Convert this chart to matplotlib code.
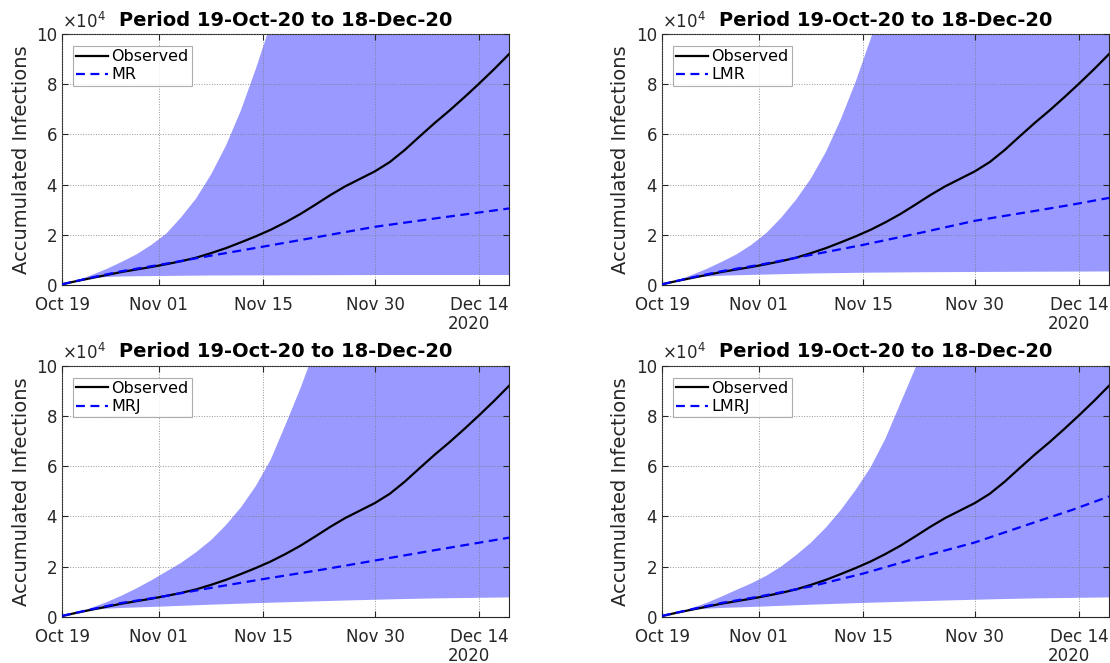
import numpy as np
import matplotlib
matplotlib.use("Agg")
import matplotlib.pyplot as plt

# all values in units of 1e4 infections, days counted from 19-Oct-2020
start = np.datetime64("2020-10-19")

obs_days = list(range(0, 61, 2))
observed = [0.03, 0.16, 0.28, 0.4, 0.52, 0.62, 0.72, 0.83, 0.95, 1.09, 1.27,
            1.47, 1.7, 1.94, 2.2, 2.5, 2.83, 3.2, 3.58, 3.93, 4.23, 4.53, 4.9,
            5.38, 5.92, 6.45, 6.95, 7.48, 8.03, 8.6, 9.2]

fit_days = [0, 4, 8, 13, 20, 27, 35, 42, 50, 55, 60]
fit_mr = [0.03, 0.3, 0.55, 0.8, 1.17, 1.53, 1.95, 2.32, 2.65, 2.85, 3.05]
fit_lmr = [0.03, 0.3, 0.55, 0.8, 1.2, 1.6, 2.1, 2.56, 2.95, 3.2, 3.47]
fit_mrj = [0.03, 0.3, 0.55, 0.78, 1.15, 1.5, 1.88, 2.24, 2.65, 2.9, 3.15]
fit_lmrj = [0.03, 0.3, 0.55, 0.8, 1.21, 1.72, 2.4, 2.96, 3.76, 4.25, 4.79]

lo_days = [0, 2, 4, 6, 8, 10, 13, 20, 27, 35, 42, 50, 60]
lo_mr = [0.03, 0.16, 0.27, 0.32, 0.34, 0.35, 0.36, 0.38, 0.385, 0.39, 0.4, 0.4, 0.4]
lo_lmr = [0.03, 0.16, 0.28, 0.34, 0.37, 0.39, 0.41, 0.46, 0.49, 0.51, 0.52, 0.53, 0.54]
lo_mrj = [0.03, 0.16, 0.27, 0.32, 0.35, 0.37, 0.4, 0.48, 0.55, 0.62, 0.68, 0.73, 0.77]
lo_lmrj = [0.03, 0.16, 0.27, 0.32, 0.35, 0.37, 0.4, 0.48, 0.55, 0.62, 0.68, 0.73, 0.77]

up_days = list(range(0, 39, 2)) + [45, 50, 60]
up_mr = [0.03, 0.18, 0.4, 0.64, 0.92, 1.22, 1.6, 2.05, 2.7, 3.45, 4.4, 5.55, 6.95,
         8.6, 10.4, 12.5, 14.8, 17.3, 20, 23, 32, 40, 60]
up_lmr = [0.03, 0.18, 0.4, 0.64, 0.92, 1.22, 1.6, 2.07, 2.68, 3.4, 4.25, 5.3, 6.6,
          8.1, 9.8, 11.7, 13.9, 16.3, 19, 22, 31, 40, 60]
up_mrj = [0.03, 0.17, 0.36, 0.58, 0.84, 1.13, 1.45, 1.8, 2.15, 2.57, 3.05, 3.65,
          4.35, 5.2, 6.25, 7.65, 9.1, 10.7, 12.4, 14.4, 21, 28, 45]
up_lmrj = [0.03, 0.16, 0.34, 0.55, 0.8, 1.07, 1.33, 1.63, 2.0, 2.45, 2.95, 3.55,
           4.25, 5.05, 5.95, 7.1, 8.5, 9.9, 11.5, 13.3, 19, 26, 42]

models = ["MR", "LMR", "MRJ", "LMRJ"]
fits = [fit_mr, fit_lmr, fit_mrj, fit_lmrj]
lows = [lo_mr, lo_lmr, lo_mrj, lo_lmrj]
ups = [up_mr, up_lmr, up_mrj, up_lmrj]

tick_days = [0, 13, 27, 42, 56]
tick_labels = ["Oct 19", "Nov 01", "Nov 15", "Nov 30", "Dec 14"]


def to_dates(days):
    return start + np.array(days).astype("timedelta64[D]")


plt.rcParams["font.family"] = "DejaVu Sans"
fig = plt.figure(figsize=(11.1, 6.63), dpi=100)

W, H = 0.4027, 0.3786
positions = [(0.0559, 0.5701), (0.5964, 0.5701), (0.0559, 0.0698), (0.5964, 0.0698)]
axc = "#262626"

for i in range(4):
    ax = fig.add_axes([positions[i][0], positions[i][1], W, H])
    ax.fill_between(to_dates(up_days), np.interp(up_days, lo_days, lows[i]), ups[i],
                    color="#9999ff", lw=0, zorder=1)
    ax.plot(to_dates(obs_days), observed, color="k", lw=1.6, label="Observed", zorder=3)
    ax.plot(to_dates(fit_days), fits[i], color="b", lw=1.6, ls=(0, (4, 2.5)),
            label=models[i], zorder=3)

    ax.set_xlim(start, start + np.timedelta64(60, "D"))
    ax.set_ylim(0, 10)
    ax.set_yticks(range(0, 11, 2))
    ax.set_xticks(to_dates(tick_days))
    ax.set_xticklabels(tick_labels)
    ax.grid(True, ls=":", color="#7a7a7a", lw=0.7, alpha=0.8, zorder=2)
    ax.set_axisbelow(False)
    ax.tick_params(direction="in", top=True, right=True, length=4, labelsize=12,
                   colors=axc, labelcolor=axc)
    ax.tick_params(axis="x", pad=8)
    for s in ax.spines.values():
        s.set_color(axc)
        s.set_linewidth(0.8)
    ax.set_ylabel("Accumulated Infections", fontsize=14, color=axc, labelpad=4)
    ax.set_title("Period 19-Oct-20 to 18-Dec-20", fontsize=14, fontweight="bold",
                 pad=6)
    ax.text(0.0, 1.01, r"$\times10^4$", transform=ax.transAxes, fontsize=12,
            color=axc, ha="left", va="bottom")
    ax.text(0.91, -0.12, "2020", transform=ax.transAxes, fontsize=12, color=axc,
            ha="center", va="top")
    leg = ax.legend(loc="upper left", fontsize=11.5, handlelength=2.0, handletextpad=0.2,
                    borderpad=0.2, labelspacing=0.2, fancybox=False,
                    bbox_to_anchor=(0.0246, 0.952), borderaxespad=0)
    leg.get_frame().set_edgecolor("#999999")
    leg.get_frame().set_linewidth(0.8)
    leg.set_zorder(5)

fig.savefig("out.png", dpi=100)
